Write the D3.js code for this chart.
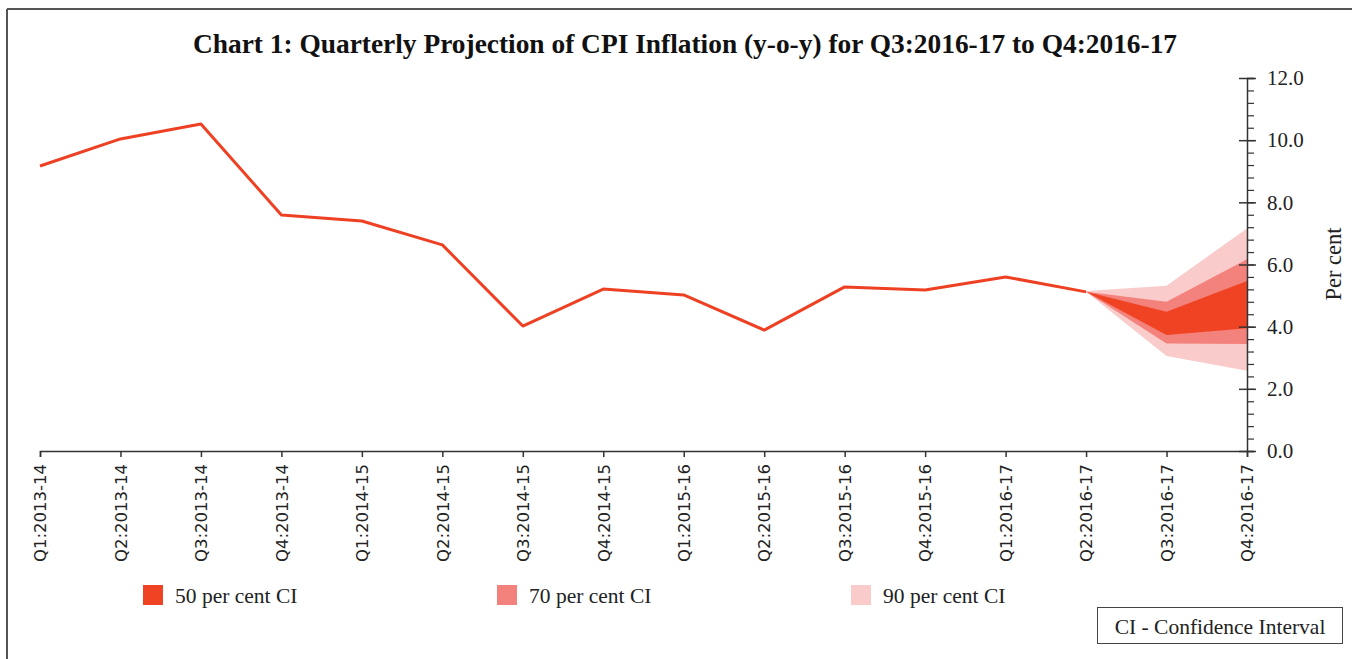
<!DOCTYPE html>
<html>
<head>
<meta charset="utf-8">
<script src="https://cdn.jsdelivr.net/npm/d3@7"></script>
<style>
  body { margin: 0; background: #fff; }
  svg { display: block; }
  .title { font-family: "Liberation Serif", serif; font-weight: bold; font-size: 27.4px; fill: #111; }
  .ylab text { font-family: "Liberation Serif", serif; font-size: 21px; fill: #222; }
  .xlab text { font-family: "DejaVu Sans", sans-serif; font-size: 16.5px; fill: #222; }
  .legend text { font-family: "Liberation Serif", serif; font-size: 21.5px; fill: #222; }
</style>
</head>
<body>
<div id="chart"></div>
<script>
// Quarters on the x axis
const quarters = [
  "Q1:2013-14", "Q2:2013-14", "Q3:2013-14", "Q4:2013-14",
  "Q1:2014-15", "Q2:2014-15", "Q3:2014-15", "Q4:2014-15",
  "Q1:2015-16", "Q2:2015-16", "Q3:2015-16", "Q4:2015-16",
  "Q1:2016-17", "Q2:2016-17", "Q3:2016-17", "Q4:2016-17"
];

// Actual CPI inflation (per cent), up to Q2:2016-17
const actual = [9.17, 10.04, 10.52, 7.59, 7.40, 6.63, 4.02, 5.21, 5.02, 3.89, 5.28, 5.18, 5.60, 5.12];

// Projection bands from Q2:2016-17 to Q4:2016-17
const fanQuarters = ["Q2:2016-17", "Q3:2016-17", "Q4:2016-17"];
const ci90Upper = [5.15, 5.32, 7.16];
const ci70Upper = [5.12, 4.80, 6.17];
const ci50Upper = [5.12, 4.48, 5.47];
const ci50Lower = [5.12, 3.73, 3.95];
const ci70Lower = [5.12, 3.46, 3.44];
const ci90Lower = [5.12, 3.06, 2.58];

const yTicks = [0, 2, 4, 6, 8, 10, 12];
const legendLabels = ["50 per cent CI", "70 per cent CI", "90 per cent CI"];

const width = 1352;
const height = 659;
const colors = { line: "#ee4123", ci50: "#f04323", ci70: "#f4827c", ci90: "#f9cbca" };

const svg = d3.select("#chart")
  .append("svg")
  .attr("width", width)
  .attr("height", height);

// page frame (top and left edges only)
svg.append("line").attr("x1", 7).attr("x2", width).attr("y1", 9).attr("y2", 9)
  .attr("stroke", "#555").attr("stroke-width", 2);
svg.append("line").attr("x1", 7).attr("x2", 7).attr("y1", 9).attr("y2", height)
  .attr("stroke", "#555").attr("stroke-width", 2);

svg.append("text")
  .attr("class", "title")
  .attr("x", 685)
  .attr("y", 53)
  .attr("text-anchor", "middle")
  .text("Chart 1: Quarterly Projection of CPI Inflation (y-o-y) for Q3:2016-17 to Q4:2016-17");

const x = d3.scalePoint().domain(quarters).range([40, 1247]);
const y = d3.scaleLinear().domain([0, 12]).range([451, 78]);

// fan bands, widest first
const bands = [
  { lo: ci90Lower, hi: ci90Upper, color: colors.ci90 },
  { lo: ci70Lower, hi: ci70Upper, color: colors.ci70 },
  { lo: ci50Lower, hi: ci50Upper, color: colors.ci50 }
];
bands.forEach(b => {
  const area = d3.area()
    .x((d, i) => x(fanQuarters[i]))
    .y0((d, i) => y(b.lo[i]))
    .y1((d, i) => y(b.hi[i]));
  svg.append("path")
    .datum(fanQuarters)
    .attr("d", area)
    .attr("fill", b.color);
});

// actual line
const line = d3.line()
  .x((d, i) => x(quarters[i]))
  .y(d => y(d));
svg.append("path")
  .datum(actual)
  .attr("d", line)
  .attr("fill", "none")
  .attr("stroke", colors.line)
  .attr("stroke-width", 3)
  .attr("stroke-linejoin", "round");

// x axis
const xAxis = svg.append("g")
  .attr("class", "xlab")
  .attr("transform", "translate(0,451)")
  .call(d3.axisBottom(x).tickSize(6).tickPadding(8));
xAxis.select(".domain").attr("stroke", "#333").attr("stroke-width", 1.5);
xAxis.selectAll(".tick line").attr("stroke", "#333").attr("stroke-width", 1.5);
xAxis.selectAll(".tick text")
  .attr("transform", "rotate(-90)")
  .attr("text-anchor", "end")
  .attr("x", -13)
  .attr("y", 0)
  .attr("dy", "0.35em");

// y axis: minor ticks on the right, major ticks crossing the line
const yAxisG = svg.append("g").attr("transform", "translate(1247,0)");
yAxisG.append("g")
  .call(d3.axisRight(y).tickValues(d3.range(0, 12.01, 0.4)).tickSize(7).tickFormat(""))
  .call(g => g.selectAll("line").attr("stroke", "#333").attr("stroke-width", 1.2))
  .call(g => g.select(".domain").attr("stroke", "#333").attr("stroke-width", 1.5));
const yMajor = yAxisG.append("g")
  .attr("class", "ylab")
  .call(d3.axisRight(y).tickValues(yTicks).tickSize(9).tickPadding(12).tickFormat(d3.format(".1f")));
yMajor.select(".domain").remove();
yMajor.selectAll(".tick line").attr("x1", -8).attr("stroke", "#333").attr("stroke-width", 1.5);
yMajor.selectAll(".tick text").attr("x", 20);

svg.append("text")
  .attr("transform", "translate(1341,264) rotate(-90)")
  .attr("text-anchor", "middle")
  .attr("font-family", "Liberation Serif, serif")
  .attr("font-size", 22.5)
  .attr("fill", "#222")
  .text("Per cent");

// legend
const legendX = [143, 497, 851];
const legendColors = [colors.ci50, colors.ci70, colors.ci90];
const legend = svg.append("g").attr("class", "legend");
legendLabels.forEach((label, i) => {
  legend.append("rect")
    .attr("x", legendX[i]).attr("y", 585)
    .attr("width", 20).attr("height", 20)
    .attr("fill", legendColors[i]);
  legend.append("text")
    .attr("x", legendX[i] + 32).attr("y", 603)
    .text(label);
});

// note box
svg.append("rect")
  .attr("x", 1097.5).attr("y", 607.5)
  .attr("width", 245).attr("height", 36)
  .attr("fill", "none").attr("stroke", "#444").attr("stroke-width", 1);
svg.append("text")
  .attr("x", 1220).attr("y", 634)
  .attr("text-anchor", "middle")
  .attr("font-family", "Liberation Serif, serif")
  .attr("font-size", 21.5)
  .attr("fill", "#222")
  .text("CI - Confidence Interval");
</script>
</body>
</html>
